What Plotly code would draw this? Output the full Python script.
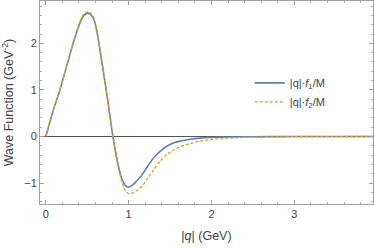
import plotly.graph_objects as go

q = [0, 0.09, 0.17, 0.25, 0.33, 0.41, 0.46, 0.51, 0.56, 0.60, 0.65, 0.70, 0.75, 0.81,
     0.875, 0.92, 0.96, 1.0, 1.05, 1.1, 1.16, 1.23, 1.3, 1.38, 1.46, 1.54, 1.62, 1.74,
     1.86, 1.98, 2.2, 2.5, 3.0, 3.5, 3.95]
f1 = [0, 0.56, 1.0, 1.5, 2.0, 2.43, 2.6, 2.65, 2.58, 2.4, 1.9, 1.33, 0.75, 0.0,
      -0.62, -0.92, -1.05, -1.09, -1.04, -0.95, -0.83, -0.64, -0.46, -0.32, -0.21, -0.14, -0.10, -0.06,
      -0.035, -0.022, -0.01, -0.005, -0.001, 0, 0]
f2 = [0, 0.56, 1.0, 1.5, 2.01, 2.46, 2.63, 2.68, 2.61, 2.43, 1.93, 1.35, 0.76, 0.0,
      -0.66, -0.98, -1.16, -1.23, -1.21, -1.16, -1.07, -0.90, -0.72, -0.53, -0.39, -0.29, -0.22, -0.15,
      -0.10, -0.07, -0.035, -0.015, -0.004, -0.001, 0]

xticks = [0, 1, 2, 3]
yticks = [-1, 0, 1, 2]

FONT = "Liberation Sans, Arial"

fig = go.Figure()
fig.add_trace(go.Scatter(x=q, y=f1, mode="lines", line=dict(color="#5E81B5", width=1.6, shape="spline", smoothing=0.8),
                         name="|q|·<i>f</i><sub>1</sub>/M"))
fig.add_trace(go.Scatter(x=q, y=f2, mode="lines", line=dict(color="#E19C24", width=1.3, dash="3px,2px", shape="spline", smoothing=0.8),
                         name="|q|·<i>f</i><sub>2</sub>/M"))

axis_common = dict(
    showgrid=False, showline=True, linecolor="#a0a0a0", linewidth=1, mirror="ticks",
    ticks="inside", ticklen=4, tickcolor="#a0a0a0", tickwidth=1,
    minor=dict(ticks="inside", ticklen=2, tickcolor="#b0b0b0", dtick=0.2, showgrid=False),
    tickfont=dict(family=FONT, size=11, color="#444"),
    automargin=False,
)
fig.update_xaxes(range=[-0.07, 3.95], tickvals=xticks, zeroline=False,
                 title=dict(text="|<i>q</i>| (GeV)", font=dict(family=FONT, size=12.5, color="#444"), standoff=12),
                 **axis_common)
fig.update_yaxes(range=[-1.45, 2.91], tickvals=yticks, zeroline=True, zerolinecolor="#555", zerolinewidth=1,
                 title=dict(text="Wave Function (GeV<sup>-2</sup>)", font=dict(family=FONT, size=12.5, color="#444"), standoff=8),
                 **axis_common)
fig.update_layout(
    width=374, height=250, margin=dict(l=40, r=1, t=1, b=46, autoexpand=False),
    plot_bgcolor="white", paper_bgcolor="white",
    legend=dict(x=0.63, y=0.55, xanchor="left", yanchor="middle", bgcolor="rgba(0,0,0,0)",
                font=dict(family=FONT, size=11, color="#444"),
                tracegroupgap=0, itemwidth=30),
    showlegend=True,
)
fig.write_html("out.html", config={"displayModeBar": False},
               post_script="document.body.style.margin='0';document.body.style.padding='0';")
